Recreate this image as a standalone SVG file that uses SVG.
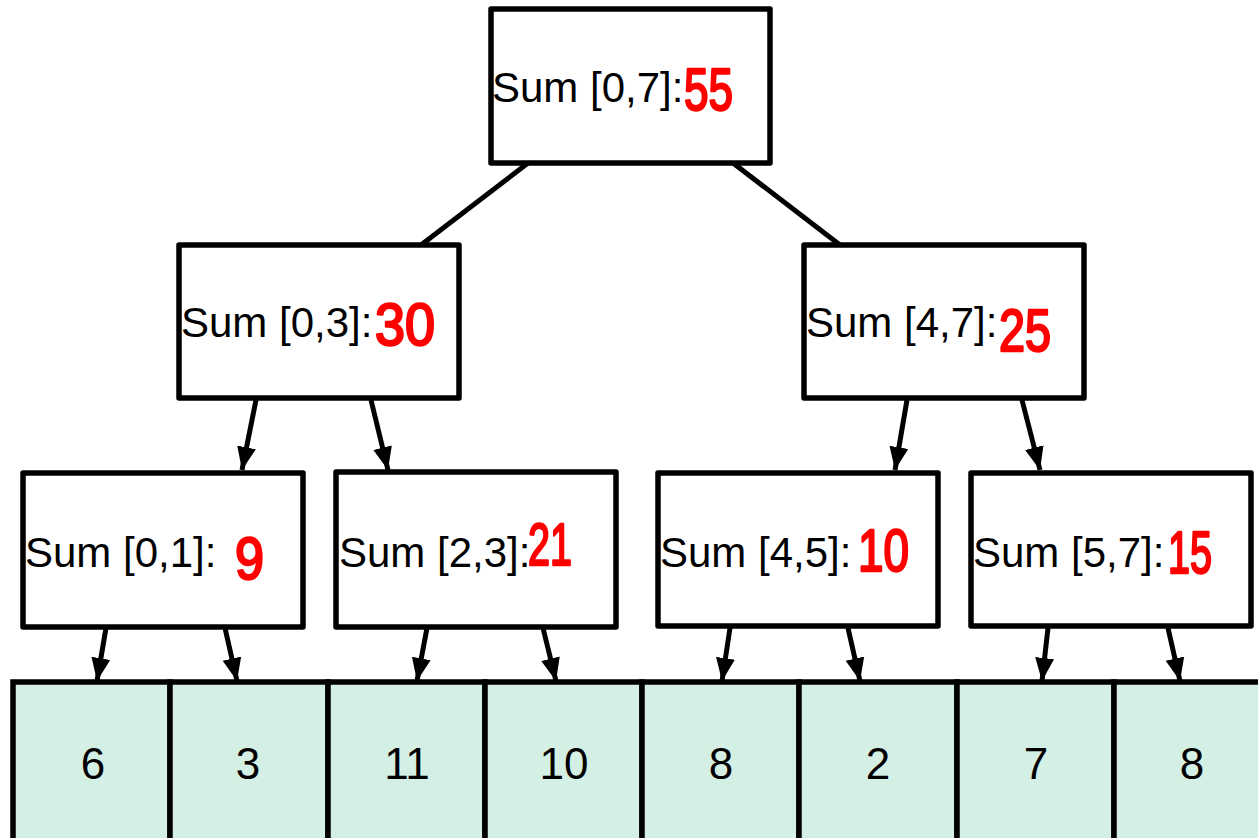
<svg xmlns="http://www.w3.org/2000/svg" width="1258" height="838" viewBox="0 0 1258 838">
<style>
.box{fill:#ffffff;stroke:#000000;stroke-width:5.5;stroke-linejoin:round}
.cell{fill:#d4efe3;stroke:#000000;stroke-width:5.5}
.lbl{font-family:"Liberation Sans",Arial,sans-serif;font-size:42px;fill:#000000}
.val{font-family:"Liberation Sans",Arial,sans-serif;font-size:44px;fill:#000000;text-anchor:middle}
.ink{font-family:"Liberation Sans",Arial,sans-serif;font-size:60px;fill:#ff0000;stroke:#ff0000;stroke-width:2.5;stroke-linejoin:round}
.edge{stroke:#000000;stroke-width:5;fill:none}
.arr{stroke:#000000;stroke-width:5;fill:none;marker-end:url(#ah)}
</style>
<defs>
<marker id="ah" markerUnits="userSpaceOnUse" markerWidth="24" markerHeight="24" viewBox="0 0 24 24" refX="23" refY="12" orient="auto">
<path d="M0,2.5 L23,12 L0,21.5 Z" fill="#000000"/>
</marker>
</defs>
<rect width="1258" height="838" fill="#ffffff"/>
<g id="connectors">
<line class="edge" x1="528" y1="163" x2="421" y2="245"/>
<line class="edge" x1="733" y1="163" x2="840" y2="245"/>
<line class="arr" x1="256" y1="400" x2="242" y2="470"/>
<line class="arr" x1="371" y1="400" x2="388" y2="470"/>
<line class="arr" x1="907" y1="400" x2="895" y2="470"/>
<line class="arr" x1="1022" y1="400" x2="1040" y2="470"/>
<line class="arr" x1="106" y1="628" x2="97" y2="681"/>
<line class="arr" x1="225" y1="628" x2="237" y2="681"/>
<line class="arr" x1="427" y1="628" x2="417" y2="681"/>
<line class="arr" x1="543" y1="628" x2="556" y2="681"/>
<line class="arr" x1="730" y1="628" x2="722" y2="681"/>
<line class="arr" x1="848" y1="628" x2="860" y2="681"/>
<line class="arr" x1="1048" y1="628" x2="1042" y2="681"/>
<line class="arr" x1="1168" y1="628" x2="1180" y2="681"/>
</g>
<g id="node-root">
<rect class="box" x="491" y="9" width="279" height="154"/>
<text class="lbl" x="492" y="102">Sum [0,7]:</text>
<text class="ink" x="684" y="110" textLength="49" lengthAdjust="spacingAndGlyphs">55</text>
</g>
<g id="node-l">
<rect class="box" x="179" y="245" width="280" height="153"/>
<text class="lbl" x="181" y="337">Sum [0,3]:</text>
<text class="ink" x="375" y="345" textLength="60" lengthAdjust="spacingAndGlyphs">30</text>
</g>
<g id="node-r">
<rect class="box" x="804" y="245" width="280" height="153"/>
<text class="lbl" x="806" y="337">Sum [4,7]:</text>
<text class="ink" x="999" y="351" textLength="52" lengthAdjust="spacingAndGlyphs">25</text>
</g>
<g id="node-ll">
<rect class="box" x="23" y="473" width="280" height="154"/>
<text class="lbl" x="25" y="567">Sum [0,1]: </text>
<text class="ink" x="235" y="579" textLength="29" lengthAdjust="spacingAndGlyphs">9</text>
</g>
<g id="node-lr">
<rect class="box" x="336" y="472" width="280" height="155"/>
<text class="lbl" x="339" y="567">Sum [2,3]:</text>
<text class="ink" x="528" y="565" textLength="44" lengthAdjust="spacingAndGlyphs">21</text>
</g>
<g id="node-rl">
<rect class="box" x="658" y="473" width="280" height="153"/>
<text class="lbl" x="660" y="567">Sum [4,5]:</text>
<text class="ink" x="858" y="571" textLength="51" lengthAdjust="spacingAndGlyphs">10</text>
</g>
<g id="node-rr">
<rect class="box" x="971" y="473" width="280" height="153"/>
<text class="lbl" x="973" y="567">Sum [5,7]:</text>
<text class="ink" x="1168" y="573" textLength="44" lengthAdjust="spacingAndGlyphs">15</text>
</g>
<g id="array">
<rect class="cell" x="13" y="682" width="157" height="170"/>
<rect class="cell" x="170" y="682" width="158" height="170"/>
<rect class="cell" x="328" y="682" width="157" height="170"/>
<rect class="cell" x="485" y="682" width="157" height="170"/>
<rect class="cell" x="642" y="682" width="157" height="170"/>
<rect class="cell" x="799" y="682" width="158" height="170"/>
<rect class="cell" x="957" y="682" width="157" height="170"/>
<rect class="cell" x="1114" y="682" width="157" height="170"/>
<text class="val" x="93" y="779">6</text>
<text class="val" x="248" y="779">3</text>
<text class="val" x="407" y="779">11</text>
<text class="val" x="564" y="779">10</text>
<text class="val" x="721" y="779">8</text>
<text class="val" x="878" y="779">2</text>
<text class="val" x="1036" y="779">7</text>
<text class="val" x="1192" y="779">8</text>
</g>
</svg>
